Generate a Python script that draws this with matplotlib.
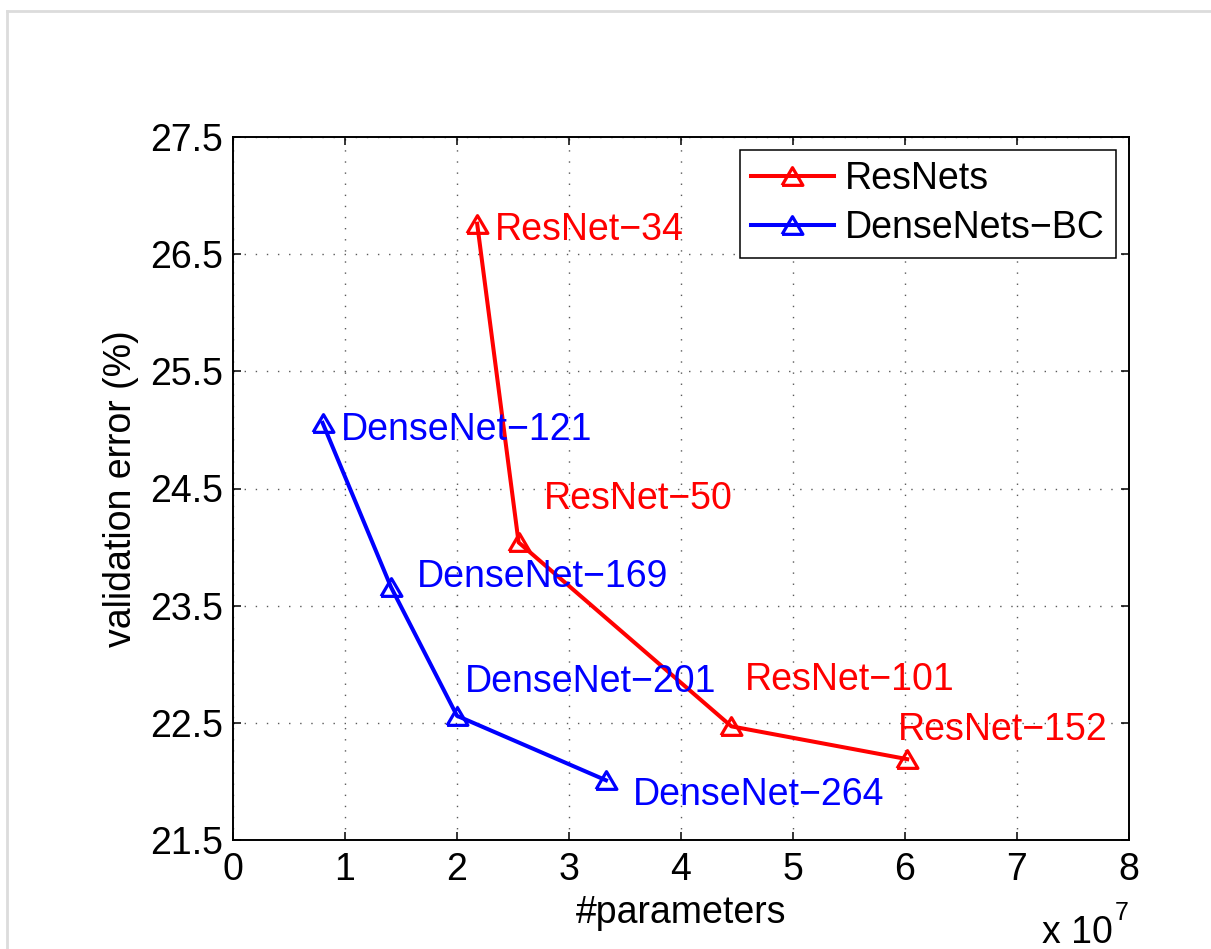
import matplotlib.pyplot as plt
from matplotlib.lines import Line2D
from matplotlib.ticker import FuncFormatter

plt.rcParams["font.family"] = ["Liberation Sans", "DejaVu Sans"]

# data (params in absolute counts, error in %)
resnet_names = ["ResNet−34", "ResNet−50", "ResNet−101", "ResNet−152"]
resnet_params = [21.8e6, 25.5e6, 44.5e6, 60.2e6]
resnet_err = [26.76, 24.04, 22.47, 22.19]

densenet_names = ["DenseNet−121", "DenseNet−169", "DenseNet−201", "DenseNet−264"]
densenet_params = [8.0e6, 14.1e6, 20.0e6, 33.3e6]
densenet_err = [25.06, 23.66, 22.56, 22.01]

x_ticks = [0, 1e7, 2e7, 3e7, 4e7, 5e7, 6e7, 7e7, 8e7]
y_ticks = [21.5, 22.5, 23.5, 24.5, 25.5, 26.5, 27.5]

# label offsets in points (dx, dy), baseline anchored
resnet_offsets = [(13, -11.5), (18, 24), (9.5, 26), (-7, 13.5)]
densenet_offsets = [(13, -12), (19, 0), (6, 17), (19.5, -18)]

FS = 27
tri = [(-1, -0.85), (1, -0.85), (0, 0.85), (-1, -0.85)]

fig = plt.figure(figsize=(12.11, 9.49), dpi=100)
ax = fig.add_axes([233 / 1211, 109 / 949, 896 / 1211, 703 / 949])

common = dict(linewidth=2.9, marker=tri, markersize=15, markerfacecolor="none",
              markeredgewidth=2.3, zorder=3)
ax.plot(resnet_params, resnet_err, color="#ff0000", label="ResNets", **common)
ax.plot(densenet_params, densenet_err, color="#0000ff", label="DenseNets−BC", **common)

for name, x, y, off in zip(resnet_names, resnet_params, resnet_err, resnet_offsets):
    ax.annotate(name, (x, y), xytext=off, textcoords="offset points",
                ha="left", va="baseline", fontsize=FS, color="#ff0000")
for name, x, y, off in zip(densenet_names, densenet_params, densenet_err, densenet_offsets):
    ax.annotate(name, (x, y), xytext=off, textcoords="offset points",
                ha="left", va="baseline", fontsize=FS, color="#0000ff")

ax.set_xlim(0, 8e7)
ax.set_ylim(21.5, 27.5)
ax.set_xticks(x_ticks)
ax.set_yticks(y_ticks)
ax.xaxis.set_major_formatter(FuncFormatter(lambda v, p: f"{v / 1e7:g}"))
ax.yaxis.set_major_formatter(FuncFormatter(lambda v, p: f"{v:.1f}"))

ax.tick_params(direction="in", top=True, right=True, length=5.8, width=1.1,
               labelsize=FS)
ax.tick_params(axis="x", pad=9)
ax.tick_params(axis="y", pad=7)
for s in ax.spines.values():
    s.set_linewidth(1.4)

ax.grid(True, color="0.35", linewidth=1.0, linestyle=(0, (1, 7)))
ax.set_axisbelow(True)

ax.set_xlabel("#parameters", fontsize=FS, labelpad=5)
ax.set_ylabel("validation error (%)", fontsize=FS, labelpad=8)

leg = ax.legend(loc="upper right", bbox_to_anchor=(0.9855, 0.9815), borderaxespad=0,
                fontsize=FS, fancybox=False, framealpha=1, edgecolor="black",
                handlelength=2.2, handletextpad=0.3, labelspacing=0.35,
                borderpad=0.3)
leg.get_frame().set_linewidth(1.1)

# exponent label like MATLAB
fig.text(1042 / 1211, (949 - 943) / 949, "x 10", fontsize=FS, va="baseline", ha="left")
fig.text(1115 / 1211, (949 - 920) / 949, "7", fontsize=18, va="baseline", ha="left")

# light screenshot frame
fig.add_artist(Line2D([7 / 1211, 7 / 1211], [0, 1 - 11 / 949], transform=fig.transFigure,
                      color="#dcdcdc", linewidth=2))
fig.add_artist(Line2D([7 / 1211, 1], [1 - 11 / 949, 1 - 11 / 949], transform=fig.transFigure,
                      color="#dcdcdc", linewidth=2))

fig.savefig("out.png", dpi=100)
